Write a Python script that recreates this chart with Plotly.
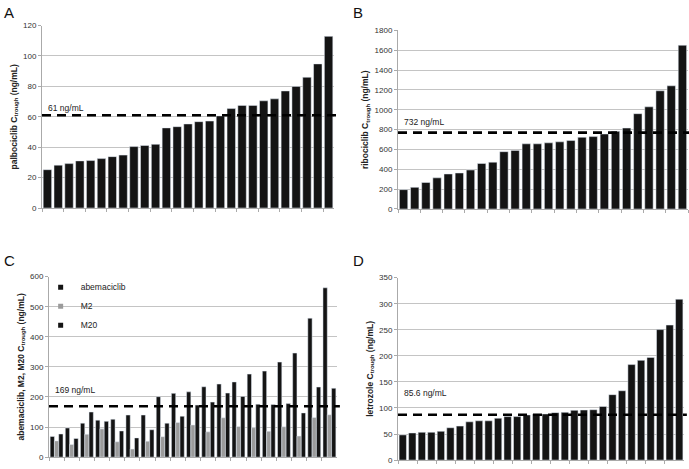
import plotly.graph_objects as go

# ---------------- data ----------------
palbo = [25.2, 28.2, 29.2, 31.0, 31.2, 32.5, 33.8, 34.8, 40.4, 41.1, 41.9, 52.7, 53.5, 55.3,
         56.8, 57.2, 60.6, 65.4, 67.5, 67.5, 70.5, 71.8, 77.0, 80.0, 86.0, 94.8, 112.9]
palbo_ref = 61
palbo_label = "61 ng/mL"

ribo = [195, 218, 267, 314, 353, 363, 393, 459, 472, 578, 591, 657, 657, 667, 677, 690,
        723, 730, 756, 783, 816, 961, 1030, 1192, 1242, 1651]
ribo_ref = 770
ribo_label = "732 ng/mL"

abema = [69, 97, 113, 123, 126, 140, 140, 201, 212, 217, 234, 243, 250, 276, 286, 316, 346, 462, 563]
m2 = [54, 42, 76, 94, 51, 27, 53, 68, 115, 107, 84, 131, 102, 98, 86, 101, 70, 132, 141]
m20 = [77, 62, 150, 119, 87, 64, 91, 113, 136, 173, 183, 213, 202, 176, 175, 178, 147, 233, 229]
abema_ref = 169
abema_label = "169 ng/mL"

letro = [48.3, 52.0, 53.3, 53.3, 55.2, 62.0, 65.2, 73.4, 75.3, 75.3, 80.3, 83.4, 83.4, 86.6,
         88.5, 88.5, 91.0, 91.6, 95.4, 96.0, 96.6, 102.9, 125.5, 133.0, 183.2, 191.3, 197.0,
         250.3, 259.0, 308.6]
letro_ref = 87
letro_label = "85.6 ng/mL"

series_names = ["abemaciclib", "M2", "M20"]
panel_letters = ["A", "B", "C", "D"]
ytitles = ["palbociclib C<sub>trough</sub> (ng/mL)",
           "ribociclib C<sub>trough</sub> (ng/mL)",
           "abemaciclib, M2, M20 C<sub>trough</sub> (ng/mL)",
           "letrozole C<sub>trough</sub> (ng/mL)"]

# ---------------- figure ----------------
W, H = 689, 469
FONT = "Arial, Liberation Sans, sans-serif"
BLACK = "#141414"
GRAY = "#9b9b9b"
GRID = "#c4c4c4"


def px_dom(a, b, total):
    return [a / total, b / total]


def py_dom(top, bottom):
    return [1 - bottom / H, 1 - top / H]


fig = go.Figure()

cats = lambda n: [str(i + 1) for i in range(n)]

fig.add_trace(go.Bar(x=cats(len(palbo)), y=palbo, marker_color=BLACK, width=0.78,
                     xaxis="x", yaxis="y", showlegend=False))
fig.add_trace(go.Bar(x=cats(len(ribo)), y=ribo, marker_color=BLACK, width=0.75,
                     xaxis="x2", yaxis="y2", showlegend=False))
c_colors = [BLACK, GRAY, BLACK]
for name, vals, col in zip(series_names, [abema, m2, m20], c_colors):
    fig.add_trace(go.Bar(x=cats(len(vals)), y=vals, marker_color=col, name=name,
                         xaxis="x3", yaxis="y3", showlegend=False))
# small square legend keys (like the reference)
for name, col in zip(series_names, c_colors):
    fig.add_trace(go.Scatter(x=[None], y=[None], mode="markers", name=name,
                             marker=dict(symbol="square", size=5, color=col),
                             xaxis="x3", yaxis="y3", showlegend=True))
fig.add_trace(go.Bar(x=cats(len(letro)), y=letro, marker_color=BLACK, width=0.77,
                     xaxis="x4", yaxis="y4", showlegend=False))

domains = [
    (px_dom(42, 334, W), py_dom(22, 208)),
    (px_dom(398, 688, W), py_dom(27, 209)),
    (px_dom(49, 337, W), py_dom(278, 462)),
    (px_dom(398, 684, W), py_dom(279, 465)),
]
yranges = [(0, 120, 20), (0, 1800, 200), (0, 600, 100), (0, 350, 50)]

layout = dict(
    width=W, height=H,
    margin=dict(l=0, r=0, t=0, b=0),
    paper_bgcolor="white", plot_bgcolor="white",
    font=dict(family=FONT, size=8, color="#222"),
    barmode="group", bargap=0.15, bargroupgap=0,
    legend=dict(x=0.059, y=0.416, xanchor="left", yanchor="top",
                bgcolor="rgba(0,0,0,0)", font=dict(size=8.5, color="#222"),
                itemwidth=30, tracegroupgap=0, itemsizing="trace"),
    shapes=[], annotations=[],
)

for i, ((xd, yd), (y0, y1, dt)) in enumerate(zip(domains, yranges)):
    sfx = "" if i == 0 else str(i + 1)
    layout["xaxis" + sfx] = dict(
        domain=xd, anchor="y" + sfx, type="category",
        showticklabels=False, showgrid=False,
        showline=True, linecolor="#aaaaaa", linewidth=1,
        ticks="outside", ticklen=3, tickcolor="#aaaaaa", tickson="boundaries",
    )
    layout["yaxis" + sfx] = dict(
        domain=yd, anchor="x" + sfx, range=[y0, y1], dtick=dt,
        showgrid=True, gridcolor=GRID, gridwidth=1,
        showline=True, linecolor="#aaaaaa", linewidth=1,
        ticks="outside", ticklen=3, tickcolor="#aaaaaa",
        tickfont=dict(size=8, color="#333"),
        zeroline=False,
        title=dict(text="<b>" + ytitles[i] + "</b>", font=dict(size=8.5, color="#222"),
                   standoff=4),
    )

refs = [(palbo_ref, palbo_label, 65.5), (ribo_ref, ribo_label, 880),
        (abema_ref, abema_label, 222), (letro_ref, letro_label, 128)]
for i, (val, lab, laby) in enumerate(refs):
    sfx = "" if i == 0 else str(i + 1)
    layout["shapes"].append(dict(
        type="line", xref="x" + sfx + " domain", yref="y" + sfx,
        x0=0.0, x1=1.01, y0=val, y1=val,
        line=dict(color="black", width=2.6, dash="9px,6px"), layer="above"))
    layout["annotations"].append(dict(
        xref="x" + sfx + " domain", yref="y" + sfx, x=0.015, y=laby,
        xanchor="left", yanchor="middle", text=lab, showarrow=False,
        font=dict(size=8.5, color="#222")))

letter_pos = [(2, 9), (351, 9), (2, 262), (351, 262)]
for letter, (lx, ly) in zip(panel_letters, letter_pos):
    layout["annotations"].append(dict(
        xref="paper", yref="paper", x=lx / W, y=1 - ly / H,
        xanchor="left", yanchor="middle", text=letter, showarrow=False,
        font=dict(size=15, color="#111")))

fig.update_layout(**layout)
fig.write_html("out.html", config={"displayModeBar": False},
               post_script="document.body.style.margin='0';document.body.style.padding='0';")
